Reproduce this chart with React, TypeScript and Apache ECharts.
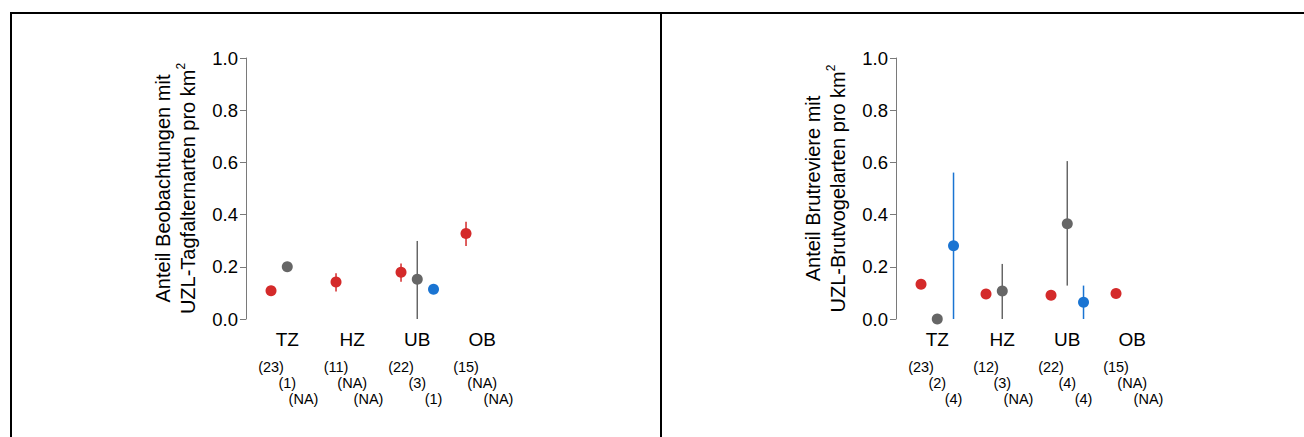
import React, { useEffect, useRef } from "react";
import * as echarts from "echarts";

const categories = ["TZ", "HZ", "UB", "OB"];

// Panel 1: Tagfalter
const p1Red = [0.108, 0.142, 0.179, 0.328];
const p1RedLo = [null, 0.105, 0.143, 0.28];
const p1RedHi = [null, 0.175, 0.213, 0.373];
const p1Grey = [0.2, null, 0.152, null];
const p1GreyLo = [null, null, 0.0, null];
const p1GreyHi = [null, null, 0.299, null];
const p1Blue = [null, null, 0.114, null];
const p1BlueLo = [null, null, null, null];
const p1BlueHi = [null, null, null, null];
const n1Red = ["(23)", "(11)", "(22)", "(15)"];
const n1Grey = ["(1)", "(NA)", "(3)", "(NA)"];
const n1Blue = ["(NA)", "(NA)", "(1)", "(NA)"];

// Panel 2: Brutvögel
const p2Red = [0.133, 0.096, 0.091, 0.098];
const p2RedLo = [null, null, null, null];
const p2RedHi = [null, null, null, null];
const p2Grey = [0.0, 0.107, 0.365, null];
const p2GreyLo = [null, 0.0, 0.128, null];
const p2GreyHi = [null, 0.211, 0.605, null];
const p2Blue = [0.281, null, 0.064, null];
const p2BlueLo = [0.0, null, 0.0, null];
const p2BlueHi = [0.561, null, 0.128, null];
const n2Red = ["(23)", "(12)", "(22)", "(15)"];
const n2Grey = ["(2)", "(3)", "(4)", "(NA)"];
const n2Blue = ["(4)", "(NA)", "(4)", "(NA)"];

const yTicks = [0, 0.2, 0.4, 0.6, 0.8, 1.0];

const RED = "#d42a2a";
const GREY = "#666666";
const BLUE = "#1a74d2";
const FONT = "Liberation Sans, Arial, sans-serif";
const OFFSETS = [-0.25, 0, 0.25];

export default function App() {
  const ref = useRef<HTMLDivElement>(null);
  useEffect(() => {
    if (!ref.current) return;
    const chart = echarts.init(ref.current, null, { renderer: "svg" });

    const panels = [
      {
        name: "Anteil Beobachtungen mit\nUZL-Tagfalternarten pro km{sup|2}",
        vals: [p1Red, p1Grey, p1Blue],
        lo: [p1RedLo, p1GreyLo, p1BlueLo],
        hi: [p1RedHi, p1GreyHi, p1BlueHi],
        n: [n1Red, n1Grey, n1Blue],
        left: 246,
      },
      {
        name: "Anteil Brutreviere mit\nUZL-Brutvogelarten pro km{sup|2}",
        vals: [p2Red, p2Grey, p2Blue],
        lo: [p2RedLo, p2GreyLo, p2BlueLo],
        hi: [p2RedHi, p2GreyHi, p2BlueHi],
        n: [n2Red, n2Grey, n2Blue],
        left: 896,
      },
    ];
    const colors = [RED, GREY, BLUE];
    const seriesNames = ["Gruppe 1", "Gruppe 2", "Gruppe 3"];
    const XMIN = -0.635;
    const XMAX = 3.6;
    const UNIT = 65;

    const grids: any[] = [];
    const xAxes: any[] = [];
    const yAxes: any[] = [];
    const series: any[] = [];

    panels.forEach((p, gi) => {
      grids.push({ left: p.left, top: 58, height: 261, width: (XMAX - XMIN) * UNIT });
      xAxes.push({
        type: "value",
        gridIndex: gi,
        min: XMIN,
        max: XMAX,
        axisLine: { show: false, onZero: false },
        axisTick: { show: false },
        splitLine: { show: false },
        axisLabel: {
          customValues: [0, 1, 2, 3],
          formatter: (v: number) => categories[Math.round(v)] ?? "",
          fontSize: 19,
          fontFamily: FONT,
          color: "#000",
          margin: 11,
        },
      });
      yAxes.push({
        type: "value",
        gridIndex: gi,
        min: 0,
        max: 1,
        interval: 0.2,
        name: p.name,
        nameLocation: "middle",
        nameGap: 46,
        nameTextStyle: {
          fontSize: 20,
          fontFamily: FONT,
          color: "#000",
          lineHeight: 25,
          rich: { sup: { fontSize: 12, verticalAlign: "top", lineHeight: 25, fontFamily: FONT, color: "#000" } },
        },
        axisLine: { show: true, onZero: false, lineStyle: { color: "#7a7a7a", width: 1 } },
        axisTick: { show: true, length: 6, lineStyle: { color: "#7a7a7a" } },
        splitLine: { show: false },
        axisLabel: {
          formatter: (v: number) => v.toFixed(1),
          fontSize: 18.5,
          fontFamily: FONT,
          color: "#000",
          margin: 8,
          customValues: yTicks,
        },
      });
      for (let s = 0; s < 3; s++) {
        const bars: any[] = [];
        const pts: any[] = [];
        for (let c = 0; c < categories.length; c++) {
          const x = c + OFFSETS[s];
          if (p.vals[s][c] != null) pts.push([x, p.vals[s][c]]);
          if (p.lo[s][c] != null && p.hi[s][c] != null) bars.push([x, p.lo[s][c], p.hi[s][c]]);
        }
        series.push({
          type: "custom",
          name: seriesNames[s] + " Intervall",
          xAxisIndex: gi,
          yAxisIndex: gi,
          z: 1,
          data: bars,
          renderItem: (params: any, api: any) => {
            const a = api.coord([api.value(0), api.value(1)]);
            const b = api.coord([api.value(0), api.value(2)]);
            return {
              type: "line",
              shape: { x1: a[0], y1: a[1], x2: b[0], y2: b[1] },
              style: { stroke: colors[s], lineWidth: 1.5 },
            };
          },
        });
        series.push({
          type: "scatter",
          name: seriesNames[s],
          xAxisIndex: gi,
          yAxisIndex: gi,
          z: 3,
          symbol: "circle",
          symbolSize: 11,
          itemStyle: { color: colors[s], opacity: 1 },
          data: pts,
        });
      }
    });

    const frame = [
      { type: "line", shape: { x1: 10, y1: 13, x2: 1304, y2: 13 }, style: { stroke: "#000", lineWidth: 2 } },
      { type: "line", shape: { x1: 11, y1: 12, x2: 11, y2: 437 }, style: { stroke: "#000", lineWidth: 2 } },
      { type: "line", shape: { x1: 661, y1: 12, x2: 661, y2: 437 }, style: { stroke: "#000", lineWidth: 2 } },
    ];

    chart.setOption({
      animation: false,
      grid: grids,
      xAxis: xAxes,
      yAxis: yAxes,
      series,
      graphic: frame,
    });

    const texts: any[] = [];
    const rowGap = [48, 63.5, 79.5];
    panels.forEach((p, gi) => {
      for (let s = 0; s < 3; s++) {
        for (let c = 0; c < categories.length; c++) {
          const pt = chart.convertToPixel({ xAxisIndex: gi, yAxisIndex: gi } as any, [c + OFFSETS[s], 0]) as number[];
          texts.push({
            type: "text",
            x: pt[0],
            y: pt[1] + rowGap[s],
            style: {
              text: p.n[s][c],
              fontSize: 14.5,
              fontFamily: FONT,
              fill: "#000",
              align: "center",
              verticalAlign: "middle",
            },
          });
        }
      }
    });
    chart.setOption({ graphic: [...frame, ...texts] }, { replaceMerge: ["graphic"] } as any);

    return () => chart.dispose();
  }, []);
  return (
    <div
      ref={ref}
      style={{ position: "fixed", left: 0, top: 0, width: 1304, height: 437, background: "#fff" }}
    />
  );
}
